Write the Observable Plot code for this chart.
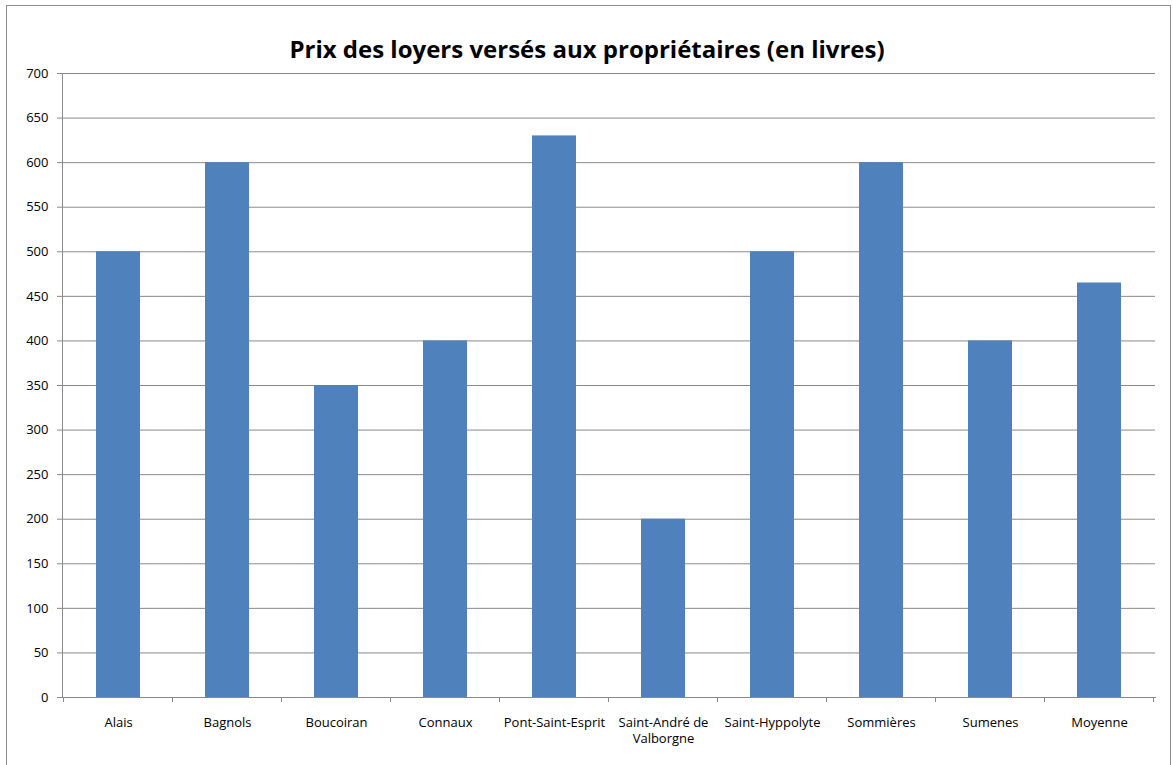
<!DOCTYPE html>
<html><head><meta charset="utf-8">
<script src="https://cdn.jsdelivr.net/npm/d3@7"></script>
<script src="https://cdn.jsdelivr.net/npm/@observablehq/plot@0.6"></script>
<style>
html,body{margin:0;padding:0;background:#fff;}
#wrap{position:relative;width:1173px;height:765px;overflow:hidden;}
#border{position:absolute;left:6px;top:5px;width:1165px;height:800px;border:1px solid #8c8c8c;box-sizing:border-box;}
#chart{position:absolute;left:0;top:0;}
</style></head>
<body><div id="wrap"><div id="border"></div><div id="chart"></div></div>
<script>
const title = "Prix des loyers versés aux propriétaires (en livres)";
const categories = ["Alais","Bagnols","Boucoiran","Connaux","Pont-Saint-Esprit","Saint-André de Valborgne","Saint-Hyppolyte","Sommières","Sumenes","Moyenne"];
const labels = ["Alais","Bagnols","Boucoiran","Connaux","Pont-Saint-Esprit","Saint-André de\nValborgne","Saint-Hyppolyte","Sommières","Sumenes","Moyenne"];
const values = [500,600,350,400,630,200,500,600,400,465];
const yTicks = d3.range(0, 701, 50);

const data = categories.map((c,i)=>({cat:c, v:values[i]}));
const labelOf = new Map(categories.map((c,i)=>[c, labels[i]]));
const grid = "#8a8a8a";

const chart = Plot.plot({
  width: 1173, height: 765,
  marginLeft: 62, marginRight: 18, marginTop: 73, marginBottom: 68,
  style: {fontFamily: "'Open Sans', 'Liberation Sans', sans-serif", fontSize: "13px", color: "#000", background: "transparent"},
  x: {domain: categories, paddingInner: 0.6, paddingOuter: 0.3, label: null},
  y: {domain: [0, 700], label: null},
  marks: [
    Plot.gridY(yTicks, {stroke: grid, strokeOpacity: 1, strokeWidth: 1}),
    Plot.barY(data, {x: "cat", y: "v", fill: "#4F81BD"}),
    Plot.axisY({ticks: yTicks, tickSize: 5, tickPadding: 9, stroke: grid, strokeOpacity: 1, label: null, fontSize: 13}),
    Plot.frame({anchor: "left", stroke: grid}),
    Plot.frame({anchor: "bottom", stroke: grid}),
    Plot.axisX({tickSize: 0, tickPadding: 17, tickFormat: d => labelOf.get(d), label: null, fontSize: 13, lineHeight: 1.3}),
    Plot.text([title], {frameAnchor: "top", dy: -33, dx: -22, text: d => d, fontSize: 24, fontWeight: "bold", fill: "#000"})
  ]
});
document.getElementById("chart").appendChild(chart);

// category boundary ticks, positioned through the x scale
const xs = chart.scale("x");
const half = xs.step / 2;
const svg = d3.select(chart);
const boundaries = categories.map(c => xs.apply(c) + xs.bandwidth / 2 - half);
boundaries.push(xs.apply(categories[categories.length - 1]) + xs.bandwidth / 2 + half);
svg.append("g").selectAll("line").data(boundaries).join("line")
  .attr("x1", d => d).attr("x2", d => d)
  .attr("y1", 697).attr("y2", 702)
  .attr("stroke", grid);
</script>
</body></html>
